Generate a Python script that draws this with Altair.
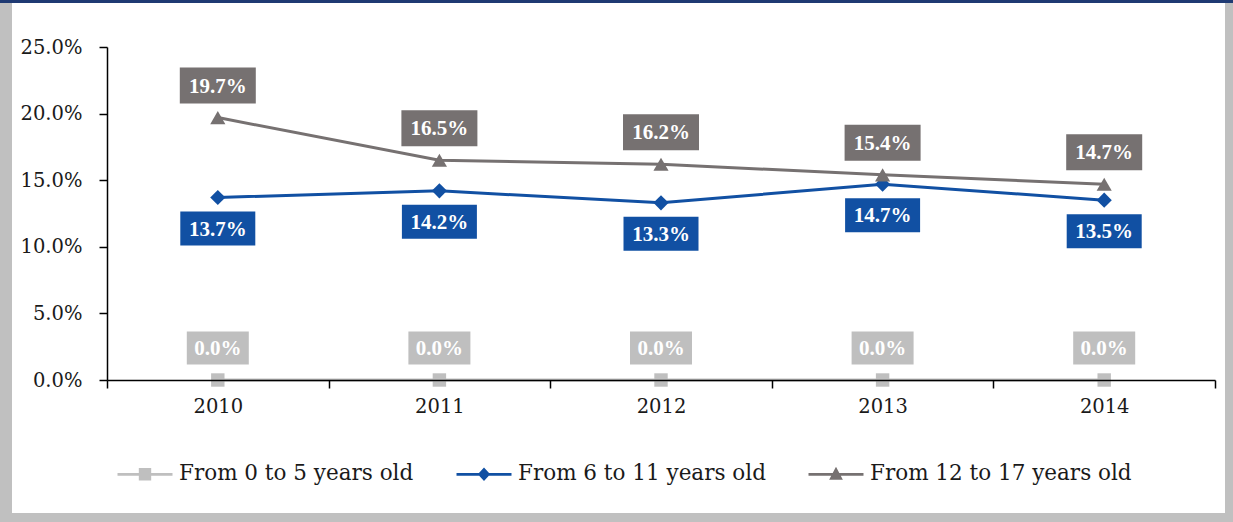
import altair as alt
import pandas as pd

years = ["2010", "2011", "2012", "2013", "2014"]
series_names = ["From 0 to 5 years old", "From 6 to 11 years old", "From 12 to 17 years old"]
age_0_5 = [0.0, 0.0, 0.0, 0.0, 0.0]
age_6_11 = [13.7, 14.2, 13.3, 14.7, 13.5]
age_12_17 = [19.7, 16.5, 16.2, 15.4, 14.7]
y_ticks = [0, 5, 10, 15, 20, 25]

colors = ["#bfbfbf", "#1150a3", "#767171"]

rows = []
for name, vals in zip(series_names, [age_0_5, age_6_11, age_12_17]):
    for yr, v in zip(years, vals):
        rows.append({"year": yr, "series": name, "value": v, "label": f"{v:.1f}%"})
df = pd.DataFrame(rows)

W, H = 1108, 333
SERIF = "DejaVu Serif"

x_enc = alt.X("year:N", sort=years, bandPosition=0.5,
              scale=alt.Scale(type="band", paddingInner=0, paddingOuter=0),
              axis=alt.Axis(title=None, labelAngle=0, tickBand="extent", tickSize=8,
                            tickColor="#000", domainColor="#000", domainWidth=1.5, tickWidth=1.5,
                            labelFont=SERIF, labelFontSize=19.5, labelColor="#1a1a1a",
                            labelPadding=9, zindex=1))
y_enc = alt.Y("value:Q", scale=alt.Scale(domain=[0, 25], nice=False),
              axis=alt.Axis(title=None, values=y_ticks, grid=False,
                            labelExpr="format(datum.value, '.1f') + '%'",
                            tickSize=8, tickColor="#000", domainColor="#000", domainWidth=1.5,
                            tickWidth=1.5, labelFont=SERIF, labelFontSize=19.5,
                            labelColor="#1a1a1a", labelPadding=17))
color_enc = alt.Color("series:N", scale=alt.Scale(domain=series_names, range=colors), legend=None)

base = alt.Chart(df).encode(x=x_enc, y=y_enc)

lines = base.mark_line(strokeWidth=3).encode(color=color_enc, detail="series:N")

pts_sq = base.transform_filter(alt.datum.series == series_names[0]).mark_point(
    shape="square", filled=True, size=180, opacity=1, color=colors[0])
pts_di = base.transform_filter(alt.datum.series == series_names[1]).mark_point(
    shape="diamond", filled=True, size=230, opacity=1, color=colors[1])
pts_tr = base.transform_filter(alt.datum.series == series_names[2]).mark_point(
    shape="triangle-up", filled=True, size=230, opacity=1, color=colors[2])

def box_path(w, h):
    r = h / w
    return f"M-1,{-r:.4f}L1,{-r:.4f}L1,{r:.4f}L-1,{r:.4f}Z"

def label_layer(idx, w, h, dy):
    sub = base.transform_filter(alt.datum.series == series_names[idx])
    box = sub.mark_point(shape=box_path(w, h), filled=True, size=w * w, opacity=1,
                         color=colors[idx], yOffset=dy)
    txt = sub.mark_text(font="Liberation Serif", fontWeight="bold", fontSize=21,
                        color="white", baseline="middle", align="center",
                        yOffset=dy + 1).encode(text="label:N")
    return box + txt

lab0 = label_layer(0, 62, 33, -32)
lab1 = label_layer(1, 75, 34, 31)
lab2 = label_layer(2, 76, 36, -32)

# legend-only layer (marks pushed out of view)
leg_paths = [
    "M-2,-0.1L2,-0.1L2,0.1L-2,0.1Z M-0.45,-0.45L0.45,-0.45L0.45,0.45L-0.45,0.45Z",
    "M-2,-0.1L2,-0.1L2,0.1L-2,0.1Z M0,-0.5L0.45,0L0,0.5L-0.45,0Z",
    "M-2,-0.1L2,-0.1L2,0.1L-2,0.1Z M0,-0.55L0.5,0.4L-0.5,0.4Z",
]
leg_kw = dict(title=None, orient="none", direction="horizontal", columns=3,
              legendX=24, legendY=413, labelFont=SERIF, labelFontSize=21.5,
              labelColor="#1a1a1a", symbolSize=756, symbolStrokeWidth=0,
              labelOffset=20, columnPadding=42, labelLimit=0)
legend_layer = alt.Chart(df).mark_point(filled=True, opacity=1, clip=True, strokeWidth=0).encode(
    x=alt.value(-2000), y=alt.value(-2000),
    fill=alt.Fill("series:N", scale=alt.Scale(domain=series_names, range=colors),
                  legend=alt.Legend(**leg_kw)),
    shape=alt.Shape("series:N", scale=alt.Scale(domain=series_names, range=leg_paths),
                    legend=alt.Legend(**leg_kw)),
)

# decorative frame
one = alt.Data(values=[{"k": 1}])
def frame(x1, x2, y1, y2, c):
    return alt.Chart(one).mark_rect(color=c).encode(
        x=alt.value(x1 - 107), x2=alt.value(x2 - 107),
        y=alt.value(y1 - 47), y2=alt.value(y2 - 47))

frames = (frame(0, 12, 0, 522, "#c0c0c0") + frame(1225, 1233, 0, 522, "#c0c0c0")
          + frame(0, 1233, 513, 522, "#c0c0c0") + frame(0, 1233, 0, 3, "#1f3a73"))

chart = alt.layer(frames, lines, pts_sq, pts_di, pts_tr, lab0, lab1, lab2, legend_layer).resolve_scale(
    color="independent"
).properties(
    width=W, height=H, autosize="none",
    padding={"left": 107, "top": 47, "right": 18, "bottom": 142},
    background="white",
).configure_view(stroke=None)

chart.save("out.html", embed_options={"renderer": "svg", "actions": False})
